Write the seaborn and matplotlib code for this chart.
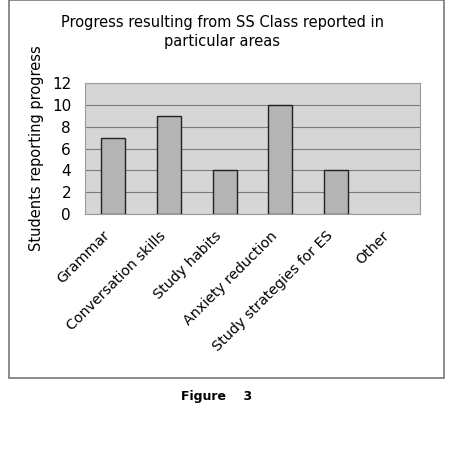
import numpy as np
import pandas as pd
import matplotlib.pyplot as plt
import matplotlib.transforms as mtransforms
import seaborn as sns
from matplotlib.patches import Rectangle

categories = ["Grammar", "Conversation skills", "Study habits",
              "Anxiety reduction", "Study strategies for ES", "Other"]
students = [7, 9, 4, 10, 4, 0]
yticks = [0, 2, 4, 6, 8, 10, 12]

df = pd.DataFrame({"area": categories, "students": students})

sns.set_style("white")
plt.rcParams['font.family'] = ['DejaVu Sans']
plt.rcParams['text.color'] = 'black'
plt.rcParams['xtick.color'] = 'black'
plt.rcParams['ytick.color'] = 'black'
plt.rcParams['axes.labelcolor'] = 'black'

fig = plt.figure(figsize=(4.52, 4.67), dpi=100)
ax = fig.add_axes([0.188, 0.542, 0.741, 0.280])

ax.set_facecolor("#d6d6d6")
sns.barplot(data=df, x="area", y="students", color="#b4b4b4",
            edgecolor="#222222", linewidth=1.0, width=0.43, ax=ax,
            saturation=1, zorder=3)
# a zero-height bar shows no outline in the original
for p, v in zip(ax.patches, students):
    if v == 0:
        p.set_edgecolor("none")

ax.set_ylim(0, 12)
ax.set_xlim(-0.5, len(categories) - 0.5)
ax.set_yticks(yticks)
ax.yaxis.grid(True, color="#7a7a7a", linewidth=0.8, zorder=1)
ax.set_axisbelow(True)
for s in ax.spines.values():
    s.set_color("#9a9a9a")
    s.set_linewidth(0.8)

ax.tick_params(axis="y", labelsize=11, length=0, pad=10)
ax.set_xticks(np.arange(len(categories)))
ax.set_xticklabels(categories, rotation=45, ha="right",
                   rotation_mode="anchor", fontsize=10.3)
ax.tick_params(axis="x", length=0, pad=12)
shift = mtransforms.ScaledTranslation(-10 / 100, 2 / 100, fig.dpi_scale_trans)
for lbl in ax.get_xticklabels():
    lbl.set_transform(lbl.get_transform() + shift)
ax.set_xlabel("")
ax.set_ylabel("Students reporting progress", fontsize=10.5, labelpad=6)

fig.text(0.492, 0.968, "Progress resulting from SS Class reported in\nparticular areas",
         ha="center", va="top", fontsize=10.5, linespacing=1.35)

frame = Rectangle((0.02, 0.19), 0.962, 0.81, transform=fig.transFigure,
                  fill=False, edgecolor="#777777", linewidth=1.2)
fig.patches.append(frame)

fig.text(0.48, 0.15, "Figure    3", ha="center", va="center",
         fontsize=9, fontweight="bold")

fig.savefig("out.png", dpi=100)
